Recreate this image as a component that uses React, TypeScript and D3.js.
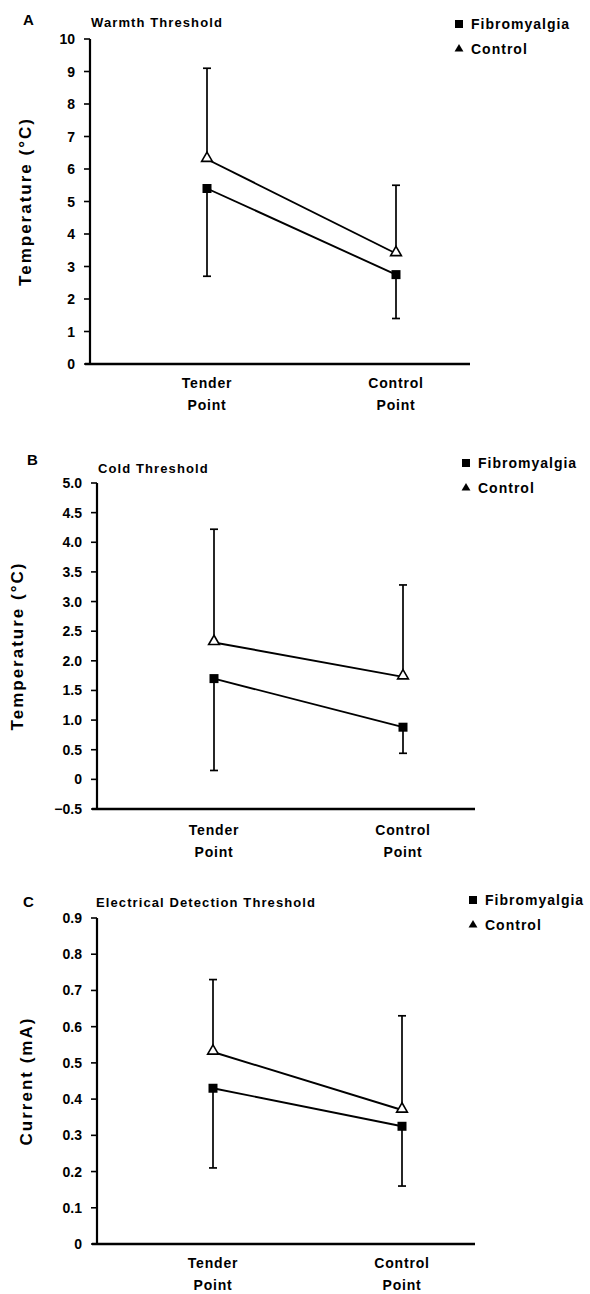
import React from "react";
import * as d3 from "d3";

const categories = ["Tender Point", "Control Point"];
const seriesNames = ["Fibromyalgia", "Control"];

// Panel A: Warmth Threshold
const warmFibro = [5.4, 2.75];
const warmFibroLow = [2.7, 1.4];
const warmControl = [6.3, 3.4];
const warmControlHigh = [9.1, 5.5];
const warmTicks = [0, 1, 2, 3, 4, 5, 6, 7, 8, 9, 10];

// Panel B: Cold Threshold
const coldFibro = [1.7, 0.88];
const coldFibroLow = [0.15, 0.44];
const coldControl = [2.31, 1.73];
const coldControlHigh = [4.22, 3.28];
const coldTicks = [-0.5, 0, 0.5, 1.0, 1.5, 2.0, 2.5, 3.0, 3.5, 4.0, 4.5, 5.0];

// Panel C: Electrical Detection Threshold
const elecFibro = [0.43, 0.325];
const elecFibroLow = [0.21, 0.16];
const elecControl = [0.53, 0.37];
const elecControlHigh = [0.73, 0.63];
const elecTicks = [0, 0.1, 0.2, 0.3, 0.4, 0.5, 0.6, 0.7, 0.8, 0.9];

const FONT = "'Liberation Sans', Arial, Helvetica, sans-serif";

type PanelProps = {
  letter: string;
  title: string;
  yLabel: string;
  fibro: number[];
  fibroLow: number[];
  control: number[];
  controlHigh: number[];
  ticks: number[];
  fmt: (v: number) => string;
  axisX: number;
  yTop: number;
  yBottom: number;
  xTender: number;
  xControl: number;
  xEnd: number;
  letterPos: [number, number];
  titlePos: [number, number];
  legendPos: [number, number];
  yLabelX: number;
  xLabelY: number;
};

function Panel(p: PanelProps) {
  const y = d3
    .scaleLinear()
    .domain([p.ticks[0], p.ticks[p.ticks.length - 1]])
    .range([p.yBottom, p.yTop]);
  const x = d3
    .scalePoint<string>()
    .domain(categories)
    .range([p.xTender, p.xControl]);
  const line = d3
    .line<number>()
    .x((_, i) => x(categories[i]) as number)
    .y((d) => y(d));
  const cap = 4;
  const sq = 9;
  const tri = d3.symbol().type(d3.symbolTriangle).size(50)();
  const triSmall = d3.symbol().type(d3.symbolTriangle).size(34)();
  return (
    <g>
      <text x={p.letterPos[0]} y={p.letterPos[1]} fontFamily={FONT} fontWeight="bold" fontSize={15} fill="#000">
        {p.letter}
      </text>
      <text x={p.titlePos[0]} y={p.titlePos[1]} fontFamily={FONT} fontWeight="bold" fontSize={13} letterSpacing={1.1} fill="#000">
        {p.title}
      </text>
      {/* legend */}
      <g fontFamily={FONT} fontWeight="bold" fontSize={14} fill="#000">
        <rect x={p.legendPos[0]} y={p.legendPos[1] - 9} width={8} height={8} fill="#000" />
        <text x={p.legendPos[0] + 16} y={p.legendPos[1]} letterSpacing={1}>
          {seriesNames[0]}
        </text>
        <path d={triSmall} transform={`translate(${p.legendPos[0] + 4},${p.legendPos[1] + 20})`} fill="#000" />
        <text x={p.legendPos[0] + 16} y={p.legendPos[1] + 25} letterSpacing={1}>
          {seriesNames[1]}
        </text>
      </g>
      {/* axes */}
      <line x1={p.axisX} x2={p.axisX} y1={p.yTop} y2={p.yBottom} stroke="#000" strokeWidth={2.2} />
      <line x1={p.axisX - 5} x2={p.xEnd} y1={p.yBottom} y2={p.yBottom} stroke="#000" strokeWidth={2.6} />
      {p.ticks.map((t) => (
        <g key={t}>
          <line x1={p.axisX - 6} x2={p.axisX} y1={y(t)} y2={y(t)} stroke="#000" strokeWidth={1.6} />
          <text
            x={p.axisX - 15}
            y={y(t)}
            dy="0.36em"
            textAnchor="end"
            fontFamily={FONT}
            fontWeight="bold"
            fontSize={14}
            fill="#000"
          >
            {p.fmt(t)}
          </text>
        </g>
      ))}
      <text
        transform={`translate(${p.yLabelX},${(p.yTop + p.yBottom) / 2}) rotate(-90)`}
        textAnchor="middle"
        dy="0.36em"
        fontFamily={FONT}
        fontWeight="bold"
        fontSize={17}
        letterSpacing={2}
        fill="#000"
      >
        {p.yLabel}
      </text>
      {/* x labels */}
      {categories.map((c) => {
        const [w1, w2] = c.split(" ");
        return (
          <g key={c} fontFamily={FONT} fontWeight="bold" fontSize={14} fill="#000" textAnchor="middle">
            <text x={x(c)} y={p.xLabelY} letterSpacing={0.8}>
              {w1}
            </text>
            <text x={x(c)} y={p.xLabelY + 22} letterSpacing={0.8}>
              {w2}
            </text>
          </g>
        );
      })}
      {/* error bars */}
      {categories.map((c, i) => (
        <g key={"e" + c} stroke="#000" strokeWidth={1.7}>
          <line x1={x(c)} x2={x(c)} y1={y(p.control[i])} y2={y(p.controlHigh[i])} />
          <line x1={(x(c) as number) - cap} x2={(x(c) as number) + cap} y1={y(p.controlHigh[i])} y2={y(p.controlHigh[i])} />
          <line x1={x(c)} x2={x(c)} y1={y(p.fibro[i])} y2={y(p.fibroLow[i])} />
          <line x1={(x(c) as number) - cap} x2={(x(c) as number) + cap} y1={y(p.fibroLow[i])} y2={y(p.fibroLow[i])} />
        </g>
      ))}
      {/* lines */}
      <path d={line(p.control) as string} fill="none" stroke="#000" strokeWidth={1.9} />
      <path d={line(p.fibro) as string} fill="none" stroke="#000" strokeWidth={1.9} />
      {p.fibro.map((v, i) => (
        <rect key={"s" + i} x={(x(categories[i]) as number) - sq / 2} y={y(v) - sq / 2} width={sq} height={sq} fill="#000" />
      ))}
      {p.control.map((v, i) => (
        <path
          key={"t" + i}
          d={tri}
          transform={`translate(${x(categories[i])},${y(v) - 1})`}
          fill="#fff"
          stroke="#000"
          strokeWidth={1.6}
        />
      ))}
    </g>
  );
}

export default function App() {
  const f0 = (v: number) => d3.format("d")(v);
  const f1 = (v: number) => (v === 0 ? "0" : d3.format(".1f")(v).replace("-", "\u2212"));
  return (
    <svg width={590} height={1294} style={{ position: "absolute", left: 0, top: 0, background: "#fff" }}>
      <rect width={590} height={1294} fill="#fff" />
      <Panel
        letter="A"
        title="Warmth Threshold"
        yLabel="Temperature (°C)"
        fibro={warmFibro}
        fibroLow={warmFibroLow}
        control={warmControl}
        controlHigh={warmControlHigh}
        ticks={warmTicks}
        fmt={f0}
        axisX={90}
        yTop={39}
        yBottom={364}
        xTender={207}
        xControl={396}
        xEnd={470}
        letterPos={[23, 25]}
        titlePos={[91, 27]}
        legendPos={[455, 29]}
        yLabelX={25}
        xLabelY={388}
      />
      <Panel
        letter="B"
        title="Cold Threshold"
        yLabel="Temperature (°C)"
        fibro={coldFibro}
        fibroLow={coldFibroLow}
        control={coldControl}
        controlHigh={coldControlHigh}
        ticks={coldTicks}
        fmt={f1}
        axisX={97}
        yTop={483}
        yBottom={809}
        xTender={214}
        xControl={403}
        xEnd={475}
        letterPos={[27, 465]}
        titlePos={[98, 473]}
        legendPos={[462, 468]}
        yLabelX={17}
        xLabelY={835}
      />
      <Panel
        letter="C"
        title="Electrical Detection Threshold"
        yLabel="Current (mA)"
        fibro={elecFibro}
        fibroLow={elecFibroLow}
        control={elecControl}
        controlHigh={elecControlHigh}
        ticks={elecTicks}
        fmt={f1}
        axisX={97}
        yTop={918}
        yBottom={1244}
        xTender={213}
        xControl={402}
        xEnd={475}
        letterPos={[23, 907]}
        titlePos={[96, 907]}
        legendPos={[469, 905]}
        yLabelX={26}
        xLabelY={1268}
      />
    </svg>
  );
}
